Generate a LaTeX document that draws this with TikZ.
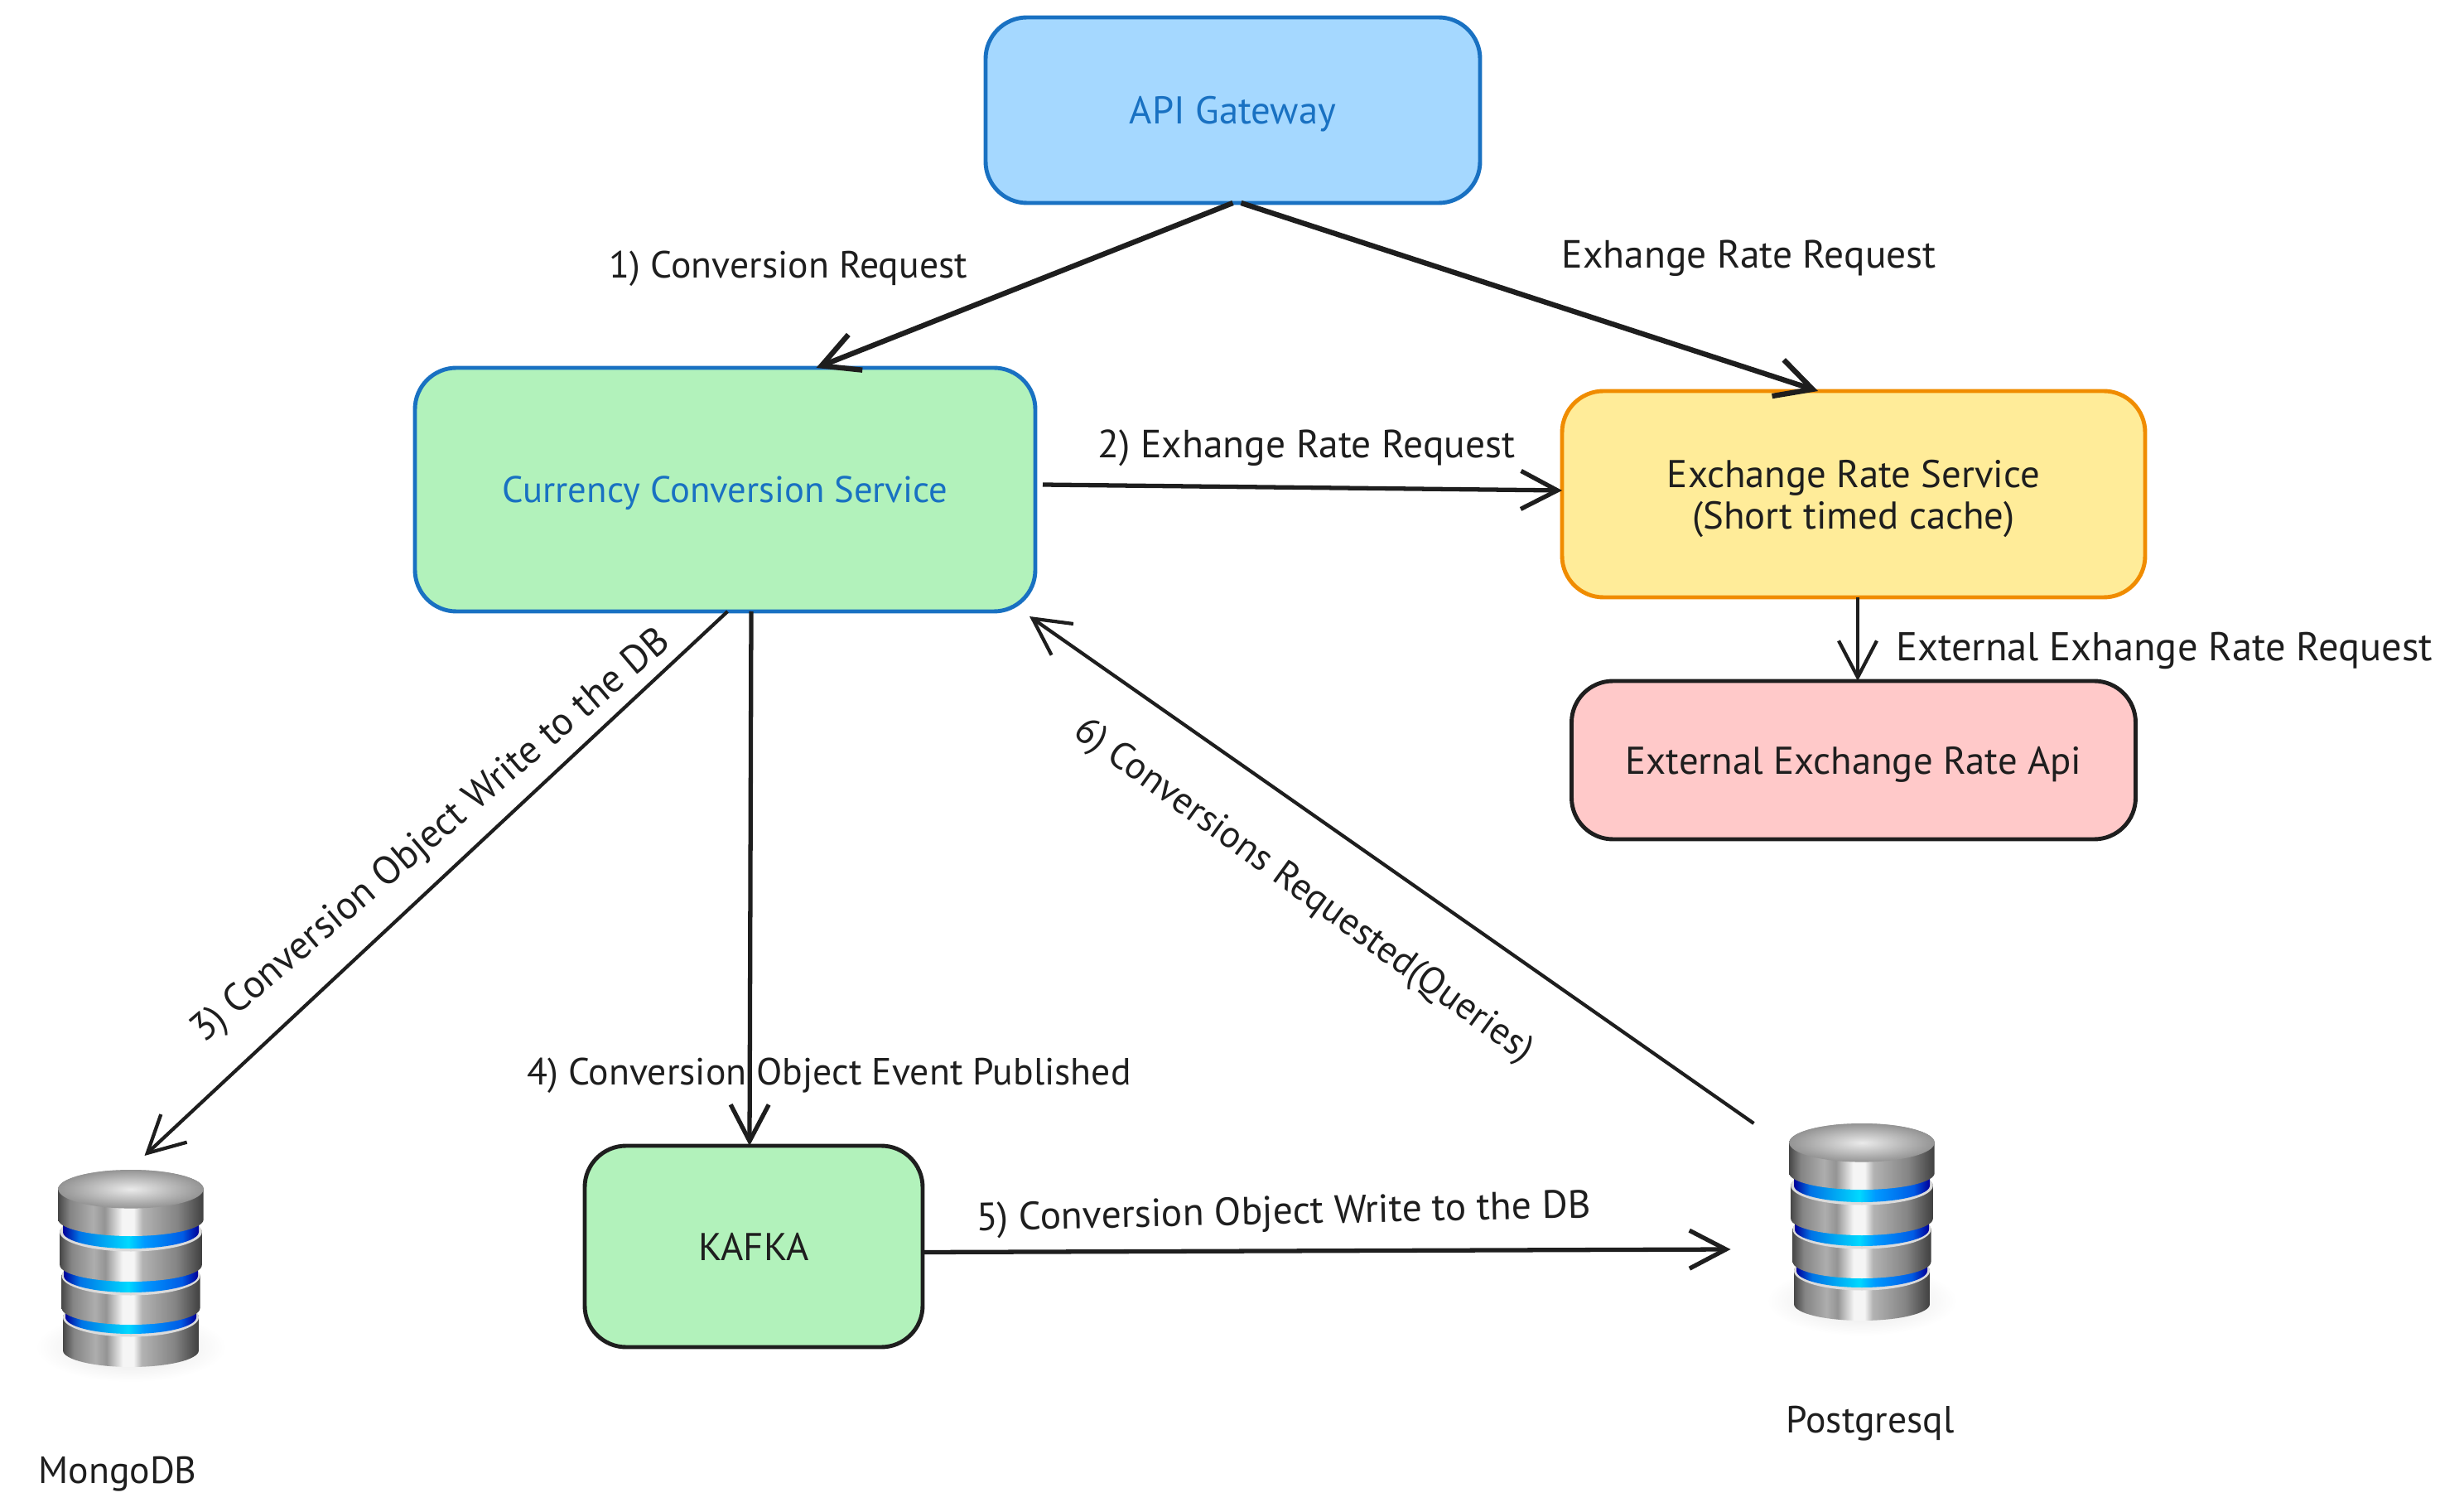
\documentclass[tikz,border=0pt]{standalone}
\usepackage{fontspec}
\usepackage{xcolor}
\setmainfont{PT Sans}
\usetikzlibrary{
    arrows.meta,
    positioning,
    calc
}
\definecolor{GateBlue}{HTML}{A5D8FF}
\definecolor{EdgeBlue}{HTML}{1971C2}
\definecolor{SoftGreen}{HTML}{B2F2BB}
\definecolor{SoftYellow}{HTML}{FFEC99}
\definecolor{EdgeOrange}{HTML}{F08C00}
\definecolor{SoftRed}{HTML}{FFC9C9}
\definecolor{InkDark}{HTML}{1E1E1E}
\pgfdeclarehorizontalshading{metalside}{100bp}{
  color(0bp)=(black!72); color(25bp)=(black!72); color(29bp)=(black!48);
  color(37bp)=(black!32); color(41bp)=(black!42); color(47bp)=(black!4);
  color(51bp)=(black!4); color(54bp)=(black!30); color(66bp)=(black!48);
  color(75bp)=(black!75); color(100bp)=(black!75)}
\pgfdeclarehorizontalshading{bluering}{100bp}{
  color(0bp)=(blue!60!black); color(25bp)=(blue!60!black);
  color(31bp)=(blue!50!cyan!90!black); color(49bp)=(cyan!85!blue);
  color(55bp)=(cyan!60!blue); color(69bp)=(blue!60!cyan!90!black);
  color(75bp)=(blue!60!black); color(100bp)=(blue!60!black)}
\tikzset{
  block/.style   = {draw, rounded corners=0.5cm, line width=1.4pt, outer sep=0pt,
                    align=center, text=InkDark, text depth=0pt, font=\fontsize{13.3}{14.2}\selectfont},
  dbnode/.style  = {minimum width=1.75cm, minimum height=2.38cm, inner sep=0pt, outer sep=0pt},
  lbl/.style     = {text=InkDark, inner sep=0pt, yshift=-0.05cm, font=\fontsize{13.5}{14.2}\selectfont},
  lbln/.style    = {lbl, font=\fontsize{13}{14.2}\selectfont},
  arr/.style     = {-{Straight Barb[length=4.4mm,width=4.6mm]}, InkDark, line width=1.8pt},
  arrm/.style    = {-{Straight Barb[length=4.4mm,width=4.6mm]}, InkDark, line width=1.5pt},
  arrt/.style    = {-{Straight Barb[length=4.4mm,width=4.6mm]}, InkDark, line width=1.2pt},
  dbstack/.pic   = {
    \shade[inner color=black!12, outer color=white] (0,-0.95) ellipse [x radius=1.15, y radius=0.42];
    \foreach \rx/\yt/\yb/\rr/\rt/\rb in {0.82/-0.59/-0.99/0.79/-0.30/-0.59, 0.835/-0.09/-0.48/0.81/0.20/-0.09, 0.858/0.44/0.04/0.82/0.70/0.44}{
      \path[shading=metalside] (-\rx,\yt) -- (-\rx,\yb) arc[start angle=180,end angle=360,x radius=\rx,y radius=0.2]
        -- (\rx,\yt) arc[start angle=0,end angle=180,x radius=\rx,y radius=0.2] -- cycle;
      \fill[black!14] (0,\yt) ellipse [x radius=\rx, y radius=0.235];
      \path[shading=bluering] (-\rr,\rt) -- (-\rr,\rb) arc[start angle=180,end angle=360,x radius=\rr,y radius=0.2]
        -- (\rr,\rt) arc[start angle=0,end angle=180,x radius=\rr,y radius=0.2] -- cycle;
    }
    \path[shading=metalside] (-0.877,0.957) -- (-0.877,0.59) arc[start angle=180,end angle=360,x radius=0.877,y radius=0.2]
      -- (0.877,0.957) arc[start angle=0,end angle=180,x radius=0.877,y radius=0.233] -- cycle;
    \shade[inner color=black!8, outer color=black!42] (0,0.957) ellipse [x radius=0.877, y radius=0.233];
  }
}

\begin{document}
\begin{tikzpicture}
\useasboundingbox (0,0) rectangle (29.75,-18.19);
\node[block,draw=EdgeBlue,fill=GateBlue,text=EdgeBlue,minimum width=5.97cm,minimum height=2.24cm] (api) at (14.885,-1.33) {API Gateway};
\node[block,draw=EdgeBlue,fill=SoftGreen,text=EdgeBlue,font=\fontsize{12.7}{14.2}\selectfont,minimum width=7.49cm,minimum height=2.94cm] (conv) at (8.755,-5.91) {Currency Conversion Service};
\node[block,draw=EdgeOrange,fill=SoftYellow,minimum width=7.04cm,minimum height=2.49cm] (exch) at (22.38,-5.965) {Exchange Rate Service\\(Short timed cache)};
\node[block,draw=InkDark,fill=SoftRed,below=1.01cm of exch,minimum width=6.81cm,minimum height=1.91cm] (ext) {External Exchange Rate Api};
\node[block,draw=InkDark,fill=SoftGreen,minimum width=4.08cm,minimum height=2.43cm] (kafka) at (9.10,-15.045) {KAFKA};
\node[dbnode] (mongo) at (1.58,-15.31) {};
\node[dbnode] (pg) at (22.48,-14.75) {};
\pic at (mongo) {dbstack};
\pic at (pg) {dbstack};
\node[lbln] (mongolbl) at (1.42,-17.74) {MongoDB};
\node[lbln] (pglbl) at (22.58,-17.13) {Postgresql};
\draw[arr] (api.south) -- node[lbln,xshift=-2.85cm,yshift=0.25cm] {1) Conversion Request} ([xshift=1.1cm]conv.north);
\draw[arr] ([xshift=0.1cm]api.south) -- node[lbl,xshift=2.65cm,yshift=0.52cm] {Exhange Rate Request} ([xshift=-0.43cm]exch.north);
\draw[arrm] ([xshift=0.09cm,yshift=0.06cm]conv.east) -- node[lbl,xshift=0.05cm,yshift=0.53cm] {2) Exhange Rate Request} ([yshift=0.045cm]exch.west);
\draw[arrt] ([xshift=0.05cm]exch.south) -- node[lbl,font=\fontsize{13.8}{14.2}\selectfont,xshift=3.70cm,yshift=-0.09cm] {External Exhange Rate Request} ([xshift=0.05cm]ext.north);
\draw[arrt] ([xshift=0.03cm]conv.south) -- node[lbl,xshift=-0.05cm,yshift=0.61cm,rotate=40.4] {3) Conversion Object Write to the DB} ([xshift=0.165cm,yshift=0.17cm]mongo.north);
\draw[arrm] ([xshift=0.315cm]conv.south) -- node[lbln,xshift=0.95cm,yshift=-2.33cm] {4) Conversion Object Event Published} ([xshift=-0.05cm]kafka.north);
\draw[arrm] ([yshift=-0.07cm]kafka.east) -- node[lbl,xshift=-0.52cm,yshift=0.49cm,rotate=1.2] {5) Conversion Object Write to the DB} ([xshift=-0.71cm,yshift=-0.33cm]pg.west);
\draw[arrt] ([xshift=-0.43cm]pg.north west) -- node[lbln,xshift=-1.07cm,yshift=-0.21cm,rotate=-36] {6) Conversions Requested(Queries)} ([xshift=-0.07cm,yshift=-0.06cm]conv.south east);
\end{tikzpicture}
\end{document}
